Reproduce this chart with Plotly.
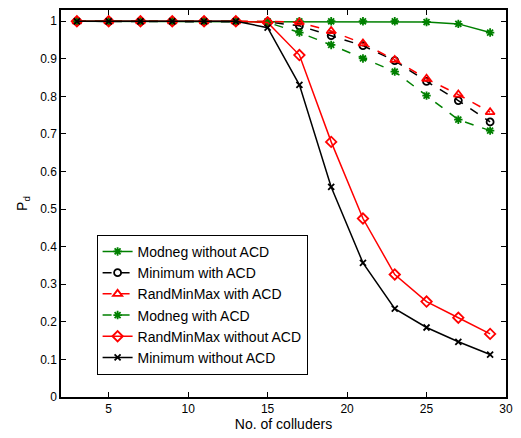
import plotly.graph_objects as go

colluders = [3, 5, 7, 9, 11, 13, 15, 17, 19, 21, 23, 25, 27, 29]

modneg_without_acd = [1, 1, 1, 1, 1, 1, 1.0, 1.0, 1.0, 1.0, 1.0, 0.998, 0.993, 0.970]
minimum_with_acd = [1, 1, 1, 1, 1, 1, 0.998, 0.988, 0.962, 0.935, 0.895, 0.840, 0.789, 0.732]
randminmax_with_acd = [1, 1, 1, 1, 1, 1, 1.0, 0.997, 0.974, 0.941, 0.897, 0.847, 0.805, 0.758]
modneg_with_acd = [1, 1, 1, 1, 1, 1, 0.997, 0.970, 0.937, 0.901, 0.866, 0.802, 0.738, 0.709]
randminmax_without_acd = [1, 1, 1, 1, 1, 1, 0.997, 0.910, 0.679, 0.475, 0.326, 0.254, 0.211, 0.168]
minimum_without_acd = [1, 1, 1, 1, 1, 1, 0.983, 0.831, 0.559, 0.357, 0.235, 0.185, 0.147, 0.113]

GREEN = "#008000"
RED = "#ff0000"
BLACK = "#000000"

series = [
    ("Modneg without ACD", modneg_without_acd, GREEN, "solid", "asterisk-open", 7),
    ("Minimum with ACD", minimum_with_acd, BLACK, "dash", "circle-open", 7),
    ("RandMinMax with ACD", randminmax_with_acd, RED, "dash", "triangle-up-open", 8),
    ("Modneg with ACD", modneg_with_acd, GREEN, "dash", "asterisk-open", 7),
    ("RandMinMax without ACD", randminmax_without_acd, RED, "solid", "diamond-open", 8),
    ("Minimum without ACD", minimum_without_acd, BLACK, "solid", "x-thin-open", 6),
]

fig = go.Figure()
for name, vals, color, dash, symbol, size in series:
    fig.add_trace(go.Scatter(
        x=colluders, y=vals, name=name, mode="lines+markers",
        line=dict(color=color, width=1.5, dash=dash),
        marker=dict(symbol=symbol, size=size, color=color,
                    line=dict(color=color, width=1.8)),
    ))

axis_common = dict(
    showline=True, linecolor="black", linewidth=1.5, mirror="ticks",
    ticks="inside", ticklen=5, tickcolor="black", tickwidth=1,
    showgrid=False, zeroline=False,
    tickfont=dict(family="Liberation Sans, Arial, sans-serif", size=12, color="black"),
)

fig.update_xaxes(range=[2, 30], tickvals=[5, 10, 15, 20, 25, 30],
                 title=dict(text="No. of colluders", standoff=4,
                            font=dict(family="Liberation Sans, Arial", size=14, color="black")),
                 **axis_common)
fig.update_yaxes(range=[0, 1.03], tickvals=[i / 10 for i in range(11)],
                 ticktext=["0"] + [f"0.{i}" for i in range(1, 10)] + ["1"],
                 title=dict(text="P<sub>d</sub>", standoff=9,
                            font=dict(family="Liberation Sans, Arial", size=14, color="black")),
                 **axis_common)

fig.update_layout(
    width=521, height=438,
    margin=dict(l=61, r=13, t=8, b=41),
    plot_bgcolor="white", paper_bgcolor="white",
    font=dict(family="Liberation Sans, Arial, sans-serif", size=12, color="black"),
    legend=dict(x=0.08, y=0.419, xanchor="left", yanchor="top",
                bordercolor="black", borderwidth=1, bgcolor="white",
                font=dict(size=14), tracegroupgap=0, itemwidth=30),
)

fig.write_html("out.html")
